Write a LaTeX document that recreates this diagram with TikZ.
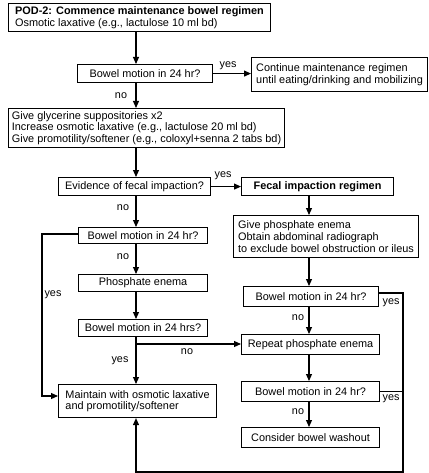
\documentclass[tikz,border=0pt]{standalone}
\usepackage{fontspec}
\setmainfont{Liberation Sans}
\usetikzlibrary{arrows.meta}
\begin{document}
\begin{tikzpicture}[x=1pt,y=-1pt,
  box/.style={draw, line width=1.1pt, inner sep=1.5pt, font=\fontsize{10.9}{11.7}\selectfont, anchor=north west},
  lbl/.style={font=\fontsize{10.8}{12}\selectfont, inner sep=0pt},
  arr/.style={line width=1.1pt, -{Triangle[length=7pt,width=6pt]}},
  ln/.style={line width=1.1pt}]
\useasboundingbox (0,0) rectangle (428,473);
\coordinate (cL) at (136,0);
\coordinate (cR) at (309,0);
\coordinate (xR) at (403,0);
\coordinate (xL) at (42,0);
\coordinate (yB) at (0,472);
% boxes
\node[box, minimum width=262pt, minimum height=28pt, align=left] (pod) at (8,3)
  {\textbf{POD-2: Commence maintenance bowel regimen}\\Osmotic laxative (e.g., lactulose 10 ml bd)};
\node[box, minimum width=135pt, minimum height=18pt] (bm1) at (77,64) {Bowel motion in 24 hr?};
\node[box, minimum width=176pt, minimum height=34pt, align=left] (cont) at (251,57)
  {Continue maintenance regimen\\until eating/drinking and mobilizing};
\node[box, minimum width=276pt, minimum height=39pt, align=left] (glyc) at (8,108)
  {Give glycerine suppositories x2\\Increase osmotic laxative (e.g., lactulose 20 ml bd)\\Give promotility/softener (e.g., coloxyl+senna 2 tabs bd)};
\node[box, minimum width=152pt, minimum height=18pt] (evid) at (58,177) {Evidence of fecal impaction?};
\node[box, minimum width=152pt, minimum height=18pt] (fir) at (241,177) {\textbf{Fecal impaction regimen}};
\node[box, minimum width=129pt, minimum height=16pt] (bm2) at (78,227) {Bowel motion in 24 hr?};
\node[box, minimum width=185pt, minimum height=42pt, align=left] (gpe) at (233,215)
  {Give phosphate enema\\Obtain abdominal radiograph\\to exclude bowel obstruction or ileus};
\node[box, minimum width=129pt, minimum height=17pt] (phos) at (78,274) {Phosphate enema};
\node[box, minimum width=135pt, minimum height=20pt] (bmR1) at (243,286) {Bowel motion in 24 hr?};
\node[box, minimum width=129pt, minimum height=17pt] (bm3) at (78,319) {Bowel motion in 24 hrs?};
\node[box, minimum width=138pt, minimum height=20pt] (rep) at (241,334) {Repeat phosphate enema};
\node[box, minimum width=158pt, minimum height=33pt, align=left] (maint) at (58,384)
  {Maintain with osmotic laxative\\and promotility/softener};
\node[box, minimum width=138pt, minimum height=20pt] (bmR2) at (241,381) {Bowel motion in 24 hr?};
\node[box, minimum width=138pt, minimum height=20pt] (wash) at (241,427) {Consider bowel washout};
% connectors left column
\draw[arr] (pod.south -| cL) -- (bm1.north -| cL);
\draw[arr] (bm1.east) -- (bm1.east -| cont.west);
\draw[arr] (bm1.south -| cL) -- (glyc.north -| cL);
\draw[arr] (glyc.south -| cL) -- (evid.north -| cL);
\draw[arr] (evid.east) -- (evid.east -| fir.west);
\draw[arr] (evid.south -| cL) -- (bm2.north -| cL);
\draw[arr] (bm2.south -| cL) -- (phos.north -| cL);
\draw[arr] (phos.south -| cL) -- (bm3.north -| cL);
\draw[arr] (bm3.south -| cL) -- (maint.north -| cL);
\coordinate (jn) at (136,344);
\draw[arr] (jn) -- (jn -| rep.west);
\coordinate (bm2o) at (78,234);
\coordinate (mIn) at (58,396);
\draw[arr] (bm2o) -- (bm2o -| xL) -- (xL |- mIn) -- (mIn);
% right column
\draw[arr] (fir.south -| cR) -- (gpe.north -| cR);
\draw[arr] (gpe.south -| cR) -- (bmR1.north -| cR);
\draw[arr] (bmR1.south -| cR) -- (rep.north -| cR);
\draw[arr] (rep.south -| cR) -- (bmR2.north -| cR);
\draw[arr] (bmR2.south -| cR) -- (wash.north -| cR);
\coordinate (r1) at (378,293);
\draw[arr] (r1) -- (r1 -| xR) -- (xR |- yB) -- (yB -| cL) -- (maint.south -| cL);
\draw[ln] (bmR2.east) -- (bmR2.east -| xR);
% labels
\node[lbl] (l1) at (228,66) {yes};
\node[lbl] (l2) at (121,96) {no};
\node[lbl] (l3) at (223,176) {yes};
\node[lbl] (l4) at (123,208) {no};
\node[lbl] (l5) at (123,257) {no};
\node[lbl] (l6) at (53,295) {yes};
\node[lbl] (l7) at (391,303) {yes};
\node[lbl] (l8) at (298,318) {no};
\node[lbl] (l9) at (187,352) {no};
\node[lbl] (l10) at (120,361) {yes};
\node[lbl] (l11) at (391,399) {yes};
\node[lbl] (l12) at (298,412) {no};
\end{tikzpicture}
\end{document}
